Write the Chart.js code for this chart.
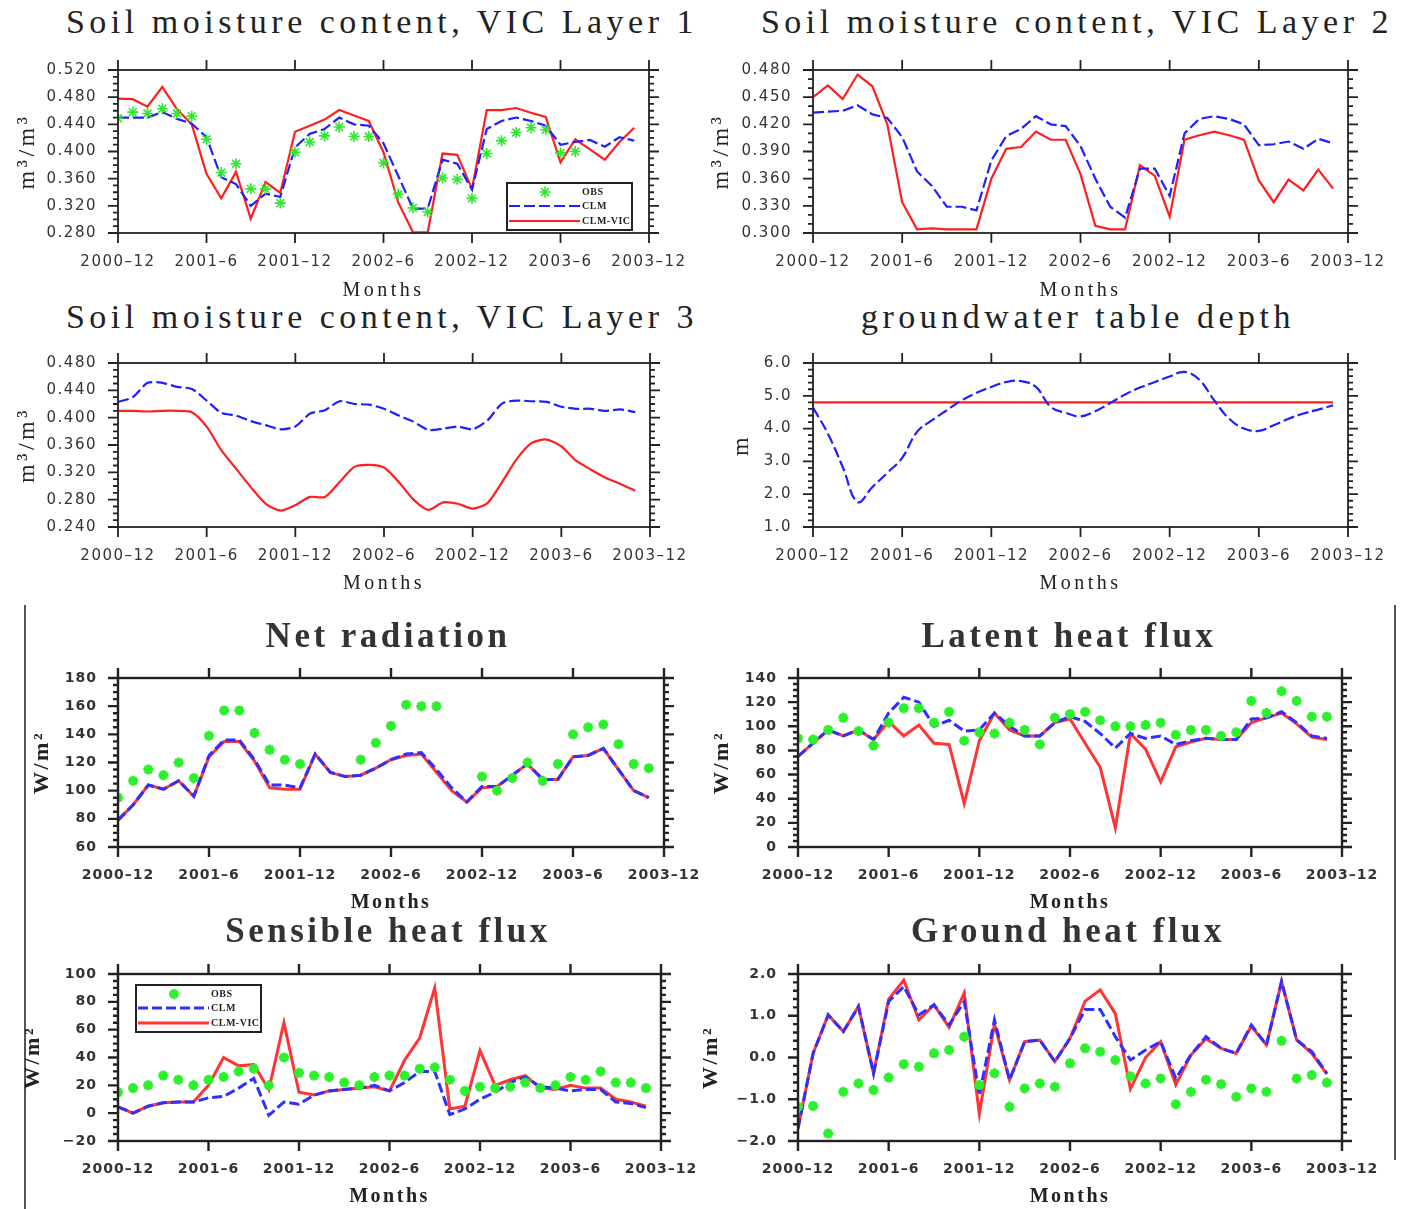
<!DOCTYPE html>
<html lang="en">
<head>
<meta charset="UTF-8">
<title>Soil moisture and surface fluxes, CLM vs CLM-VIC</title>
<script src="https://cdn.jsdelivr.net/npm/chart.js@4.4.1/dist/chart.umd.min.js"></script>
<style>
  body { margin: 0; background: #fff; }
  #page { position: relative; width: 1405px; height: 1209px; overflow: hidden; background: #fff; }
  #page canvas { position: absolute; }
  .title { position: absolute; transform: translateX(-50%); white-space: nowrap; line-height: 1; color: #222;
           font-family: "Liberation Serif", "Times New Roman", serif; }
  .top-title { font-size: 34px; letter-spacing: 4.5px; }
  .low-title { font-size: 35px; font-weight: bold; letter-spacing: 3.5px; color: #333; filter: blur(0.7px); }
  .rule { position: absolute; width: 2px; background: #555; }
</style>
</head>
<body>
<div id="page">
  <div class="title top-title" style="left:382px; top:5px">Soil moisture content, VIC Layer 1</div>
  <div class="title top-title" style="left:1077px; top:5px">Soil moisture content, VIC Layer 2</div>
  <div class="title top-title" style="left:382px; top:300px">Soil moisture content, VIC Layer 3</div>
  <div class="title top-title" style="left:1078px; top:300px">groundwater table depth</div>
  <div class="title low-title" style="left:388px; top:618px">Net radiation</div>
  <div class="title low-title" style="left:1069px; top:618px">Latent heat flux</div>
  <div class="title low-title" style="left:388px; top:913px">Sensible heat flux</div>
  <div class="title low-title" style="left:1068px; top:913px">Ground heat flux</div>
  <div class="rule" style="left:24px; top:605px; height:604px"></div>
  <div class="rule" style="left:1394px; top:605px; height:555px"></div>
</div>

<script>
  // month index 0 = 2000-12, ticks every 6 months
  const xTickLabels = ['2000–12', '2001–6', '2001–12', '2002–6', '2002–12', '2003–6', '2003–12'];

  // Soil moisture, VIC layer 1 (m3/m3)
  const layer1Obs = [0.449, 0.458, 0.456, 0.463, 0.456, 0.452, 0.418, 0.369, 0.382, 0.345, 0.345, 0.324,
                     0.399, 0.414, 0.423, 0.436, 0.422, 0.422, 0.383, 0.337, 0.317, 0.311, 0.361, 0.359,
                     0.331, 0.397, 0.416, 0.428, 0.435, 0.432, 0.398, 0.400, null, null, null, null];
  const layer1Clm = [0.450, 0.450, 0.450, 0.458, 0.448, 0.441, 0.421, 0.362, 0.352, 0.320, 0.338, 0.333,
                     0.406, 0.426, 0.433, 0.450, 0.440, 0.438, 0.412, 0.364, 0.316, 0.316, 0.388, 0.382,
                     0.344, 0.433, 0.445, 0.450, 0.445, 0.438, 0.410, 0.414, 0.417, 0.407, 0.421, 0.416];
  const layer1Vic = [0.478, 0.477, 0.466, 0.495, 0.462, 0.440, 0.367, 0.331, 0.370, 0.301, 0.355, 0.339,
                     0.429, 0.438, 0.447, 0.461, 0.453, 0.445, 0.399, 0.325, 0.281, 0.281, 0.397, 0.395,
                     0.345, 0.461, 0.461, 0.464, 0.457, 0.451, 0.384, 0.418, 0.403, 0.388, 0.414, 0.435];

  // Soil moisture, VIC layer 2
  const layer2Clm = [0.433, 0.434, 0.435, 0.441, 0.431, 0.427, 0.406, 0.368, 0.352, 0.329, 0.329, 0.325,
                     0.380, 0.407, 0.415, 0.429, 0.420, 0.418, 0.396, 0.360, 0.329, 0.317, 0.371, 0.371,
                     0.341, 0.410, 0.426, 0.429, 0.426, 0.420, 0.397, 0.398, 0.401, 0.393, 0.404, 0.399];
  const layer2Vic = [0.450, 0.463, 0.448, 0.475, 0.462, 0.420, 0.334, 0.304, 0.305, 0.304, 0.304, 0.304,
                     0.360, 0.393, 0.395, 0.412, 0.403, 0.403, 0.365, 0.308, 0.304, 0.304, 0.375, 0.363,
                     0.318, 0.403, 0.408, 0.412, 0.408, 0.403, 0.358, 0.334, 0.359, 0.347, 0.370, 0.349];

  // Soil moisture, VIC layer 3
  const layer3Clm = [0.423, 0.430, 0.451, 0.451, 0.445, 0.442, 0.425, 0.407, 0.403, 0.395, 0.389, 0.383,
                     0.387, 0.406, 0.411, 0.424, 0.420, 0.419, 0.413, 0.403, 0.394, 0.382, 0.384, 0.387,
                     0.383, 0.396, 0.421, 0.425, 0.424, 0.423, 0.416, 0.413, 0.413, 0.410, 0.412, 0.408];
  const layer3Vic = [0.410, 0.410, 0.409, 0.410, 0.410, 0.408, 0.387, 0.352, 0.325, 0.298, 0.274, 0.264,
                     0.272, 0.284, 0.284, 0.306, 0.328, 0.331, 0.327, 0.306, 0.280, 0.265, 0.276, 0.274,
                     0.267, 0.275, 0.306, 0.340, 0.363, 0.368, 0.358, 0.337, 0.324, 0.312, 0.303, 0.293];

  // Groundwater table depth (m)
  const gwClm = [4.64, 3.85, 2.83, 1.76, 2.22, 2.65, 3.11, 3.90, 4.25, 4.56, 4.86, 5.09,
                 5.27, 5.42, 5.45, 5.27, 4.66, 4.48, 4.37, 4.53, 4.78, 5.04, 5.25, 5.42,
                 5.59, 5.73, 5.49, 4.86, 4.30, 4.00, 3.93, 4.10, 4.30, 4.46, 4.58, 4.71];
  const gwVic = [4.80, 4.80, 4.80, 4.80, 4.80, 4.80, 4.80, 4.80, 4.80, 4.80, 4.80, 4.80,
                 4.80, 4.80, 4.80, 4.80, 4.80, 4.80, 4.80, 4.80, 4.80, 4.80, 4.80, 4.80,
                 4.80, 4.80, 4.80, 4.80, 4.80, 4.80, 4.80, 4.80, 4.80, 4.80, 4.80, 4.80];

  // Net radiation (W/m2)
  const netObs = [95, 107, 115, 111, 120, 109, 139, 157, 157, 141, 129, 122,
                  119, null, null, null, 122, 134, 146, 161, 160, 160, null, null,
                  110, 100, 109, 120, 107, 119, 140, 145, 147, 133, 119, 116];
  const netClm = [79, 90, 104, 101, 107, 96, 125, 136, 136, 122, 104, 104,
                  102, 126, 113, 110, 111, 116, 122, 126, 127, 115, 102, 92,
                  103, 103, 111, 119, 108, 108, 124, 125, 130, 115, 100, 95];
  const netVic = [79, 90, 104, 101, 107, 96, 124, 135, 135, 121, 102, 101,
                  101, 126, 113, 110, 111, 116, 122, 125, 126, 113, 100, 92,
                  102, 103, 111, 119, 108, 108, 124, 125, 130, 115, 100, 95];

  // Latent heat flux (W/m2)
  const latObs = [90, 89, 97, 107, 96, 84, 103, 115, 115, 103, 112, 88,
                  95, 94, 103, 97, 85, 107, 110, 112, 105, 100, 100, 101,
                  103, 93, 97, 97, 92, 95, 121, 111, 129, 121, 108, 108];
  const latClm = [75, 86, 97, 92, 97, 89, 111, 124, 120, 100, 105, 96,
                  97, 111, 100, 92, 92, 103, 108, 104, 94, 82, 94, 90,
                  92, 85, 88, 90, 89, 89, 106, 107, 112, 103, 92, 90];
  const latVic = [75, 86, 97, 92, 97, 89, 104, 92, 101, 86, 85, 36,
                  88, 111, 97, 92, 92, 103, 106, 86, 66, 16, 94, 81,
                  54, 83, 87, 90, 89, 89, 103, 107, 111, 102, 91, 89];

  // Sensible heat flux (W/m2)
  const sensObs = [15, 18, 20, 27, 24, 20, 24, 26, 30, 32, 20, 40,
                   29, 27, 26, 22, 20, 26, 27, 27, 32, 33, 24, 16,
                   19, 18, 19, 22, 18, 20, 26, 24, 30, 22, 22, 18];
  const sensClm = [4.5, 0, 5, 7.5, 8, 8, 11, 12, 18, 25, -1.5, 8,
                   6.5, 13, 16, 17, 18, 20, 16, 22, 30, 30, -1, 3,
                   10, 15, 22, 26, 19, 18, 16, 17, 17, 8, 7, 4];
  const sensVic = [4.5, 0, 5, 7.5, 8, 8, 20, 40, 34, 35, 17, 65,
                   15, 13, 16, 17, 18, 19, 16, 38, 54, 90, 3, 5,
                   45, 20, 24, 27, 18, 17, 20, 18, 18, 10, 8, 5];

  // Ground heat flux (W/m2)
  const gndObs = [-1.18, -1.16, -1.82, -0.82, -0.62, -0.78, -0.48, -0.16, -0.22, 0.10, 0.18, 0.50,
                  -0.66, -0.38, -1.18, -0.74, -0.62, -0.70, -0.14, 0.22, 0.14, -0.06, -0.45, -0.62,
                  -0.50, -1.12, -0.82, -0.53, -0.64, -0.94, -0.74, -0.82, 0.40, -0.50, -0.42, -0.60];
  const gndClm = [-1.70, 0.10, 1.02, 0.62, 1.22, -0.38, 1.34, 1.70, 1.02, 1.26, 0.78, 1.34,
                  -0.90, 0.90, -0.54, 0.38, 0.42, -0.10, 0.46, 1.15, 1.15, 0.50, -0.06, 0.18,
                  0.38, -0.50, 0.06, 0.50, 0.22, 0.10, 0.78, 0.30, 1.82, 0.42, 0.14, -0.38];
  const gndVic = [-1.70, 0.10, 1.02, 0.62, 1.22, -0.38, 1.40, 1.85, 0.90, 1.26, 0.72, 1.55,
                  -1.35, 0.80, -0.54, 0.38, 0.42, -0.10, 0.46, 1.35, 1.62, 1.05, -0.75, 0.00,
                  0.38, -0.65, 0.06, 0.45, 0.22, 0.10, 0.75, 0.30, 1.82, 0.42, 0.10, -0.40];

  const seriesNames = ['OBS', 'CLM', 'CLM-VIC'];

  // two looks: the crisp upper half and the blurry lower half
  const looks = {
    top: { red: '#ff1f1f', blue: '#1f1fff', green: '#2ee82e', line: 2.2, dash: [11, 4], star: 5.5, starWidth: 1.6,
           ink: '#222', frame: 1.8, tickFont: { family: '"DejaVu Sans", sans-serif', size: 15 }, tickColor: '#333',
           tickSpacing: '1.5px', xTitleFont: '20px "Liberation Serif", serif', yTitleFont: '24px "Liberation Serif", serif',
           titleSpacing: '3.5px', legendFont: 'bold 10px "Liberation Serif", serif', blur: 0 },
    low: { red: '#ff3434', blue: '#2f2fff', green: '#2cf02c', line: 3, dash: [10, 4], star: 5, starWidth: 3,
           ink: '#222', frame: 2.4, tickFont: { family: '"DejaVu Sans", sans-serif', size: 14, weight: 'bold' }, tickColor: '#333',
           tickSpacing: '1px', xTitleFont: 'bold 20px "Liberation Serif", serif', yTitleFont: 'bold 22px "Liberation Serif", serif',
           titleSpacing: '2.5px', legendFont: 'bold 10px "Liberation Serif", serif', blur: 0.7 }
  };

  const panels = [
    { area: [118, 70, 649, 233], y: [0.28, 0.52, 0.04, 0.01, 3], look: 'top', yTitle: 'm³/m³', yGap: 90, xGap: 58,
      series: [layer1Obs, layer1Clm, layer1Vic], legend: [389, 113] },
    { area: [813, 70, 1348, 233], y: [0.30, 0.48, 0.03, 0.01, 3], look: 'top', yTitle: 'm³/m³', yGap: 91, xGap: 58,
      series: [null, layer2Clm, layer2Vic] },
    { area: [118, 363, 650, 527], y: [0.24, 0.48, 0.04, 0.01, 3], look: 'top', yTitle: 'm³/m³', yGap: 90, xGap: 57,
      series: [null, layer3Clm, layer3Vic], tension: 0.25 },
    { area: [813, 363, 1348, 527], y: [1, 6, 1, 0.2, 1], look: 'top', yTitle: 'm', yGap: 71, xGap: 57,
      series: [null, gwClm, gwVic], tension: 0.4 },
    { area: [118, 678, 664, 847], y: [60, 180, 20, 5, 0], look: 'low', yTitle: 'W/m²', yGap: 76, xGap: 56,
      series: [netObs, netClm, netVic] },
    { area: [798, 678, 1342, 847], y: [0, 140, 20, 5, 0], look: 'low', yTitle: 'W/m²', yGap: 76, xGap: 56,
      series: [latObs, latClm, latVic] },
    { area: [118, 974, 661, 1141], y: [-20, 100, 20, 5, 0], look: 'low', yTitle: 'W/m²', yGap: 85, xGap: 56,
      series: [sensObs, sensClm, sensVic], legend: [18, 11] },
    { area: [798, 974, 1342, 1141], y: [-2, 2, 1, 0.2, 1], look: 'low', yTitle: 'W/m²', yGap: 87, xGap: 56,
      series: [gndObs, gndClm, gndVic] }
  ];

  // canvas margins around the plot frame (room for tick labels and titles)
  const PAD = { left: 10, right: 70, top: 32, bottom: 30 };
  const Y_AXIS_W = 100, X_AXIS_H = 40;

  function drawStar(ctx, cx, cy, r, color, width) {
    ctx.strokeStyle = color;
    ctx.lineWidth = width;
    ctx.beginPath();
    for (let k = 0; k < 4; k++) {
      const t = k * Math.PI / 4;
      ctx.moveTo(cx - r * Math.cos(t), cy - r * Math.sin(t));
      ctx.lineTo(cx + r * Math.cos(t), cy + r * Math.sin(t));
    }
    ctx.stroke();
  }

  function drawLegend(ctx, a, o, datasets) {
    const bx = a.left + o.legend[0], by = a.top + o.legend[1], w = 125, h = 47;
    ctx.fillStyle = '#fff';
    ctx.fillRect(bx, by, w, h);
    ctx.lineWidth = 2;
    ctx.strokeStyle = o.ink;
    ctx.strokeRect(bx, by, w, h);
    const rows = [9, 23, 38];
    datasets.forEach((ds, i) => {
      const ry = by + rows[i];
      if (ds.showLine === false) {
        drawStar(ctx, bx + 38, ry, ds.pointRadius, ds.borderColor, ds.pointBorderWidth);
      } else {
        ctx.setLineDash(ds.borderDash || []);
        ctx.strokeStyle = ds.borderColor;
        ctx.lineWidth = ds.borderWidth;
        ctx.beginPath();
        ctx.moveTo(bx + 2, ry);
        ctx.lineTo(bx + 73, ry);
        ctx.stroke();
        ctx.setLineDash([]);
      }
      ctx.fillStyle = o.ink;
      ctx.font = o.legendFont;
      ctx.letterSpacing = '0.5px';
      ctx.textAlign = 'left';
      ctx.textBaseline = 'middle';
      ctx.fillText(ds.label, bx + 75, ry);
    });
  }

  // NCL-like frame: outward ticks on all four sides, axis titles, legend box
  const nclFrame = {
    id: 'nclFrame',
    beforeDraw(chart, args, o) {
      chart.ctx.letterSpacing = o.tickSpacing;
    },
    afterDraw(chart, args, o) {
      const { ctx, chartArea: a, scales: { x, y } } = chart;
      ctx.save();
      ctx.setLineDash([]);
      ctx.strokeStyle = o.ink;
      ctx.lineWidth = o.frame;
      ctx.strokeRect(a.left, a.top, a.right - a.left, a.bottom - a.top);
      ctx.beginPath();
      for (let m = 0; m <= 36; m += 6) {
        const px = x.getPixelForValue(m);
        ctx.moveTo(px, a.top - 10); ctx.lineTo(px, a.top);
        ctx.moveTo(px, a.bottom); ctx.lineTo(px, a.bottom + 10);
      }
      const count = Math.round((o.yMax - o.yMin) / o.minor);
      const every = Math.round(o.major / o.minor);
      for (let k = 0; k <= count; k++) {
        const py = y.getPixelForValue(o.yMin + k * o.minor);
        const len = k % every === 0 ? 10 : 5;
        ctx.moveTo(a.left - len, py); ctx.lineTo(a.left, py);
        ctx.moveTo(a.right, py); ctx.lineTo(a.right + len, py);
      }
      ctx.stroke();

      ctx.fillStyle = o.ink;
      ctx.letterSpacing = o.titleSpacing;
      ctx.textAlign = 'center';
      ctx.textBaseline = 'middle';
      ctx.font = o.xTitleFont;
      ctx.fillText('Months', (a.left + a.right) / 2, a.bottom + o.xGap);
      ctx.save();
      ctx.translate(a.left - o.yGap, (a.top + a.bottom) / 2);
      ctx.rotate(-Math.PI / 2);
      ctx.font = o.yTitleFont;
      ctx.fillText(o.yTitle, 0, 0);
      ctx.restore();

      if (o.legend) drawLegend(ctx, a, o, chart.data.datasets);
      ctx.restore();
    }
  };

  function points(values) {
    return values.map((v, i) => ({ x: i, y: v }));
  }

  function fmtY(v, digits) {
    return v.toFixed(digits).replace('-', '−');
  }

  const page = document.getElementById('page');

  panels.forEach((p) => {
    const L = looks[p.look];
    const [left, top, right, bottom] = p.area;
    const [yMin, yMax, major, minor, digits] = p.y;

    const canvas = document.createElement('canvas');
    canvas.width = right - left + PAD.left + Y_AXIS_W + PAD.right;
    canvas.height = bottom - top + PAD.top + X_AXIS_H + PAD.bottom;
    canvas.style.left = (left - PAD.left - Y_AXIS_W) + 'px';
    canvas.style.top = (top - PAD.top) + 'px';
    if (L.blur) canvas.style.filter = 'blur(' + L.blur + 'px)';
    page.appendChild(canvas);

    const datasets = [];
    if (p.series[0]) {
      datasets.push({ label: seriesNames[0], data: points(p.series[0]), showLine: false, pointStyle: 'star',
        pointRadius: L.star, pointBorderWidth: L.starWidth, borderColor: L.green, backgroundColor: L.green });
    }
    datasets.push({ label: seriesNames[1], data: points(p.series[1]), borderColor: L.blue, borderWidth: L.line,
      borderDash: L.dash, pointRadius: 0, tension: p.tension || 0, fill: false });
    datasets.push({ label: seriesNames[2], data: points(p.series[2]), borderColor: L.red, borderWidth: L.line,
      pointRadius: 0, tension: p.tension || 0, fill: false });

    new Chart(canvas, {
      type: 'line',
      data: { datasets },
      options: {
        responsive: false,
        animation: false,
        events: [],
        layout: { padding: PAD },
        plugins: {
          legend: { display: false },
          tooltip: { enabled: false },
          nclFrame: {
            ink: L.ink, frame: L.frame, tickSpacing: L.tickSpacing, titleSpacing: L.titleSpacing,
            xTitleFont: L.xTitleFont, yTitleFont: L.yTitleFont, legendFont: L.legendFont,
            yMin, yMax, major, minor, yTitle: p.yTitle, yGap: p.yGap, xGap: p.xGap, legend: p.legend
          }
        },
        scales: {
          x: {
            type: 'linear', min: 0, max: 36,
            grid: { display: false, drawTicks: false },
            border: { display: false },
            ticks: { stepSize: 6, padding: 20, autoSkip: false, maxRotation: 0, font: L.tickFont, color: L.tickColor,
                     callback: (v) => xTickLabels[Math.round(v / 6)] },
            afterFit: (s) => { s.height = X_AXIS_H; }
          },
          y: {
            min: yMin, max: yMax,
            grid: { display: false, drawTicks: false },
            border: { display: false },
            ticks: { stepSize: major, padding: 21, font: L.tickFont, color: L.tickColor,
                     callback: (v) => fmtY(v, digits) },
            afterFit: (s) => { s.width = Y_AXIS_W; }
          }
        }
      },
      plugins: [nclFrame]
    });
  });
</script>
</body>
</html>
